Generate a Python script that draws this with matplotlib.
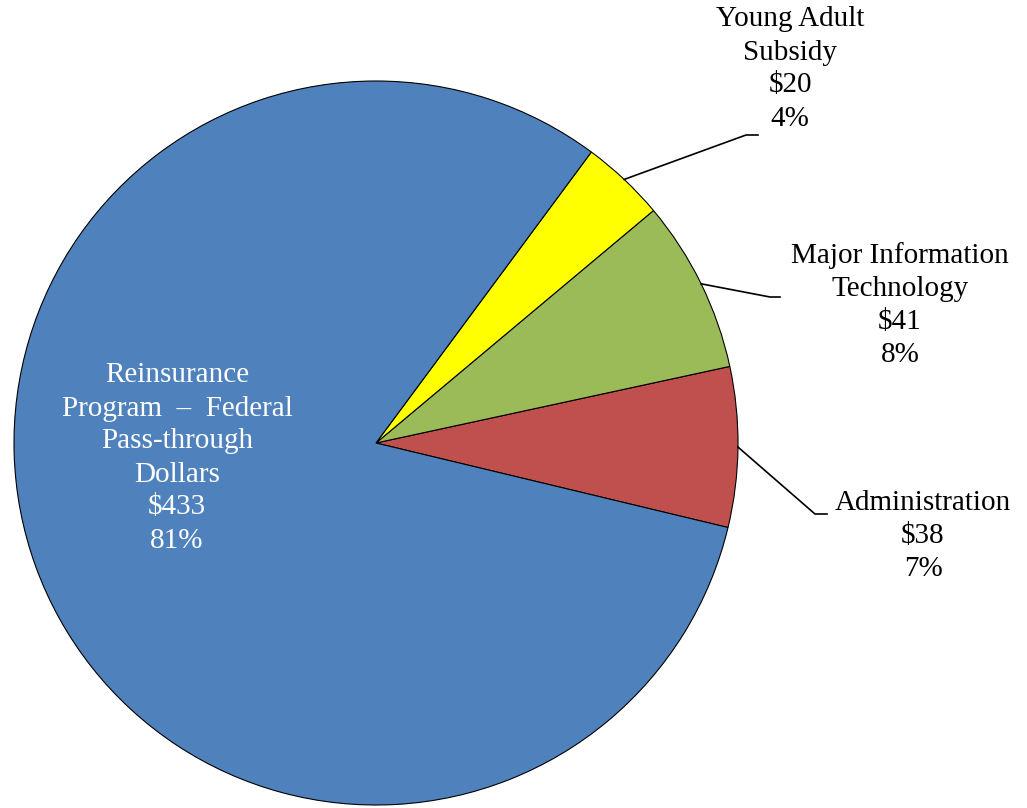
import numpy as np
import matplotlib
matplotlib.use('Agg')
import matplotlib.pyplot as plt

plt.rcParams['font.family'] = ['Liberation Serif', 'DejaVu Serif']

# 预算构成（单位：百万美元）
names = ['Administration', 'Major Information\nTechnology', 'Young Adult\nSubsidy',
         'Reinsurance\nProgram  \u2013  Federal\nPass-through\nDollars']
amounts = [38, 41, 20, 433]
colors = ['#C0504D', '#9BBB59', '#FFFF00', '#4F81BD']

total = sum(amounts)
pcts = [int(round(a * 100.0 / total)) for a in amounts]

fig = plt.figure(figsize=(10.27, 8.08), dpi=100)
ax = fig.add_axes([0, 0, 1, 1])

center = (376, 365)
radius = 362
wedges, _ = ax.pie(amounts, colors=colors, startangle=-13.5, counterclock=True,
                   center=center, radius=radius,
                   wedgeprops=dict(edgecolor='black', linewidth=0.8))

ax.set_xlim(0, 1027)
ax.set_ylim(0, 808)
ax.set_aspect('equal')
ax.axis('off')

# 标签位置，引导线拐点，水平段终点
label_pos = [(923, 272), (900, 503), (790, 739), (177, 350)]
elbows = [((815, 294), (827, 294)),
          ((770, 511), (780, 511)),
          ((746, 673), (758, 673)),
          None]

for i, w in enumerate(wedges):
    txt = '%s\n$%d\n%d%%' % (names[i], amounts[i], pcts[i])
    if elbows[i] is None:
        ax.text(label_pos[i][0], label_pos[i][1], txt, ha='center', va='center',
                fontsize=21, color='white', linespacing=1.35)
        continue
    ang = np.deg2rad((w.theta1 + w.theta2) / 2.0)
    sx = center[0] + radius * np.cos(ang)
    sy = center[1] + radius * np.sin(ang)
    (ex, ey), (fx, fy) = elbows[i]
    ax.plot([sx, ex, fx], [sy, ey, fy], color='black', lw=1.2, solid_joinstyle='miter')
    ax.text(label_pos[i][0], label_pos[i][1], txt, ha='center', va='center',
            fontsize=21, color='black', linespacing=1.35)

fig.savefig('out.png', dpi=100, facecolor='white')
